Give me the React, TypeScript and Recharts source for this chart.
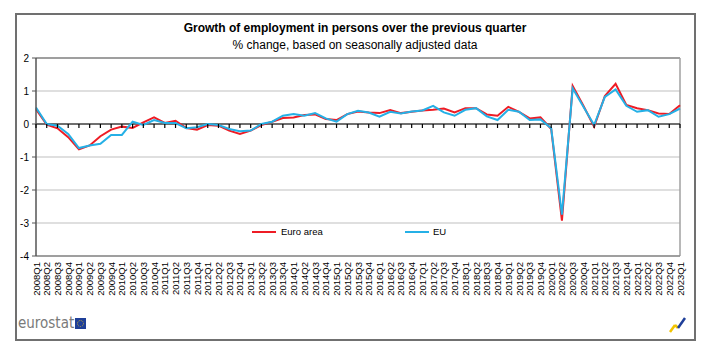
import React from "react";
import {
  LineChart,
  Line,
  XAxis,
  YAxis,
  CartesianGrid,
  ReferenceLine,
  ReferenceDot
} from "recharts";

const years = [2008, 2009, 2010, 2011, 2012, 2013, 2014, 2015, 2016, 2017, 2018, 2019, 2020, 2021, 2022, 2023];

const quarters: string[] = [];
years.forEach((y) => {
  for (let q = 1; q <= 4; q++) {
    if (y === 2023 && q > 1) break;
    quarters.push(`${y}Q${q}`);
  }
});

const euroArea = [
  0.45, -0.02, -0.13, -0.4, -0.77, -0.65, -0.37, -0.17, -0.08, -0.12,
  0.05, 0.2, 0.03, 0.1, -0.12, -0.17, -0.03, -0.05, -0.2, -0.3,
  -0.2, -0.03, 0.07, 0.18, 0.2, 0.27, 0.29, 0.15, 0.12, 0.3,
  0.38, 0.35, 0.33, 0.42, 0.33, 0.37, 0.41, 0.43, 0.47, 0.35,
  0.48, 0.48, 0.29, 0.25, 0.52, 0.37, 0.17, 0.2, -0.15, -2.93,
  1.15, 0.55, -0.08, 0.85, 1.22, 0.58, 0.48, 0.42, 0.32, 0.3,
  0.57
];

const eu = [
  0.5, 0.0, -0.05, -0.3, -0.73, -0.65, -0.6, -0.33, -0.33, 0.07,
  -0.03, 0.12, 0.03, 0.03, -0.13, -0.1, 0.0, -0.03, -0.15, -0.22,
  -0.2, 0.0, 0.07, 0.25, 0.3, 0.25, 0.33, 0.17, 0.07, 0.3,
  0.4, 0.35, 0.22, 0.37, 0.32, 0.38, 0.41, 0.55, 0.35, 0.25,
  0.43, 0.48, 0.23, 0.12, 0.43, 0.37, 0.12, 0.14, -0.13, -2.75,
  1.08, 0.52, -0.03, 0.82, 1.05, 0.55, 0.37, 0.42, 0.22, 0.3,
  0.47
];

const yTicks = [-4, -3, -2, -1, 0, 1, 2];

const data = quarters.map((q, i) => ({ q, euro: euroArea[i], eu: eu[i] }));

const FONT = "'Liberation Sans', Arial, sans-serif";
const RED = "#ee1c25";
const BLUE = "#25b0e6";

function QuarterTick(props: any) {
  const { x, y, payload } = props;
  return (
    <text
      x={x}
      y={y}
      dy={3.5}
      transform={`rotate(-90 ${x} ${y})`}
      textAnchor="end"
      fontSize={9.5}
      fontFamily={FONT}
      fill="#000"
    >
      {payload.value}
    </text>
  );
}

// short tick mark hanging below the zero line
const zeroTick = (props: any) => {
  const { cx, cy } = props;
  if (cx == null || cy == null) return <g />;
  return <path d={`M${cx},${cy}V${cy + 4}`} stroke="#000" strokeWidth={1.2} fill="none" />;
};

export default function App() {
  return (
    <div style={{ position: "absolute", left: 0, top: 0, width: 712, height: 362, background: "#fff" }}>
      <div
        style={{
          position: "absolute",
          left: 15,
          top: 13,
          width: 677,
          height: 324,
          border: "2px solid #707070",
          boxSizing: "content-box"
        }}
      />
      <div
        style={{
          position: "absolute",
          left: 16,
          width: 678,
          top: 20,
          textAlign: "center",
          fontFamily: FONT,
          fontSize: 12,
          lineHeight: "17px",
          color: "#000"
        }}
      >
        <div style={{ fontWeight: "bold" }}>Growth of employment in persons over the previous quarter</div>
        <div>% change, based on seasonally adjusted data</div>
      </div>
      <div style={{ position: "absolute", left: 0, top: 0 }}>
        <LineChart width={712} height={362} data={data} margin={{ top: 58, right: 32, left: 14, bottom: 56 }}>
          <CartesianGrid horizontal vertical={false} stroke="#d4d4d4" strokeWidth={1.5} />
          <XAxis
            dataKey="q"
            interval={0}
            tick={<QuarterTick />}
            tickLine={false}
            tickSize={4}
            tickMargin={2}
            height={50}
            axisLine={{ stroke: "#8a8a8a", strokeWidth: 1.5 }}
          />
          <YAxis
            domain={[-4, 2]}
            ticks={yTicks}
            interval={0}
            width={22}
            tickSize={4}
            tickMargin={3}
            tick={{ fontSize: 10, fontFamily: FONT, fill: "#000" }}
            tickLine={{ stroke: "#555" }}
            axisLine={{ stroke: "#555", strokeWidth: 1.5 }}
          />
          <ReferenceLine y={2} stroke="#8a8a8a" strokeWidth={1.5} />
          <ReferenceLine x={quarters[quarters.length - 1]} stroke="#a0a0a0" strokeWidth={1.5} />
          <ReferenceLine y={0} stroke="#000" strokeWidth={1.2} />
          {quarters.map((q) => (
            <ReferenceDot key={q} x={q} y={0} r={2} ifOverflow="visible" shape={zeroTick} />
          ))}
          <Line
            type="linear"
            dataKey="euro"
            name="Euro area"
            stroke={RED}
            strokeWidth={2}
            dot={false}
            isAnimationActive={false}
          />
          <Line
            type="linear"
            dataKey="eu"
            name="EU"
            stroke={BLUE}
            strokeWidth={2}
            dot={false}
            isAnimationActive={false}
          />
        </LineChart>
      </div>
      <div style={{ position: "absolute", left: 252, top: 225, width: 220, height: 14, fontFamily: FONT, fontSize: 9.5 }}>
        <div style={{ position: "absolute", left: 0, top: 6, width: 24, height: 2, background: RED }} />
        <span style={{ position: "absolute", left: 29, top: 1 }}>Euro area</span>
        <div style={{ position: "absolute", left: 153, top: 6, width: 24, height: 2, background: BLUE }} />
        <span style={{ position: "absolute", left: 181, top: 1 }}>EU</span>
      </div>
      <div
        style={{
          position: "absolute",
          left: 18,
          top: 314,
          fontFamily: "'Liberation Sans Narrow', 'DejaVu Sans Condensed', Arial, sans-serif",
          fontSize: 15,
          color: "#7a7a7a",
          display: "flex",
          alignItems: "center"
        }}
      >
        <span>eurostat</span>
        <svg width={11} height={11} style={{ marginLeft: 1 }}>
          <rect x={0} y={0} width={11} height={11} fill="#1f3f99" />
          <circle cx={5.5} cy={5.5} r={3} fill="none" stroke="#e3c020" strokeWidth={0.8} strokeDasharray="1 1" />
        </svg>
      </div>
      <svg style={{ position: "absolute", left: 668, top: 316 }} width={20} height={18}>
        <line x1={2} y1={16} x2={7} y2={9} stroke="#f2c400" strokeWidth={2.5} />
        <line x1={7} y1={9} x2={10} y2={12} stroke="#f2c400" strokeWidth={2.5} />
        <line x1={10} y1={12} x2={17} y2={2} stroke="#1f3f99" strokeWidth={2.5} />
      </svg>
    </div>
  );
}
